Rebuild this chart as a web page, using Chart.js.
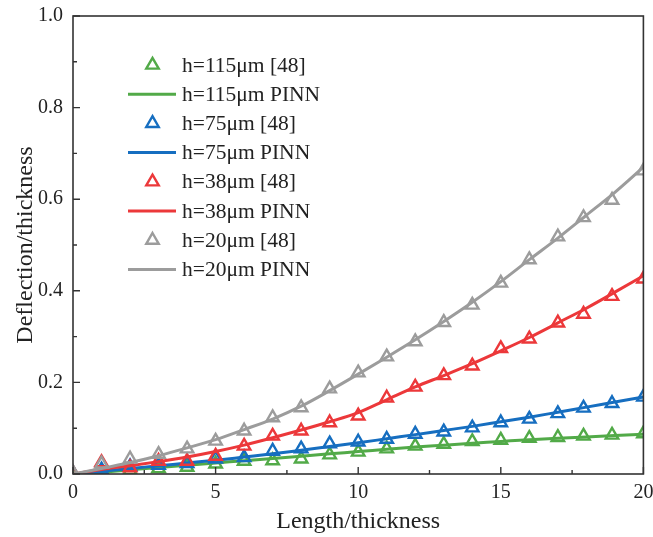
<!DOCTYPE html>
<html>
<head>
<meta charset="utf-8">
<script src="https://cdn.jsdelivr.net/npm/chart.js@4.4.1/dist/chart.umd.min.js"></script>
<style>
    html, body { margin: 0; padding: 0; background: #fff; }
    #wrap { width: 653px; height: 537px; }
</style>
</head>
<body>
<div id="wrap"><canvas id="deflectionChart" width="653" height="537"></canvas></div>
<script>
// x positions
const pinnLength = [0, 1, 2, 3, 4, 5, 6, 7, 8, 9, 10, 11, 12, 13, 14, 15, 16, 17, 18, 19, 20];
const refLength = [0, 1, 2, 3, 4, 5, 6, 7, 8, 9, 10, 11, 12, 13, 14, 15, 16, 17, 17.9, 18.9, 20];

// reference [48] markers
const h115Ref = [0.0, 0.002, 0.008, 0.012, 0.015, 0.022, 0.028, 0.029, 0.033, 0.042, 0.048, 0.055, 0.061, 0.065, 0.071, 0.074, 0.078, 0.08, 0.083, 0.085, 0.088];
const h75Ref = [0.002, 0.009, 0.016, 0.019, 0.023, 0.033, 0.036, 0.05, 0.055, 0.066, 0.07, 0.076, 0.087, 0.092, 0.101, 0.112, 0.12, 0.132, 0.144, 0.154, 0.168];
const h38Ref = [0.002, 0.025, 0.014, 0.028, 0.028, 0.039, 0.061, 0.083, 0.094, 0.112, 0.127, 0.166, 0.19, 0.215, 0.236, 0.274, 0.295, 0.33, 0.349, 0.388, 0.426];
const h20Ref = [0.003, 0.022, 0.033, 0.043, 0.055, 0.072, 0.094, 0.123, 0.145, 0.186, 0.221, 0.256, 0.289, 0.331, 0.369, 0.417, 0.468, 0.518, 0.56, 0.598, 0.662];

// PINN curves
const h115Pinn = [0, 0.004, 0.009, 0.014, 0.019, 0.024, 0.029, 0.034, 0.039, 0.044, 0.049, 0.054, 0.059, 0.063, 0.067, 0.071, 0.075, 0.078, 0.081, 0.084, 0.087];
const h75Pinn = [0, 0.006, 0.012, 0.018, 0.024, 0.03, 0.037, 0.044, 0.052, 0.06, 0.068, 0.077, 0.086, 0.095, 0.104, 0.114, 0.124, 0.135, 0.146, 0.157, 0.168];
const h38Pinn = [0, 0.01, 0.018, 0.027, 0.037, 0.049, 0.063, 0.079, 0.096, 0.114, 0.134, 0.162, 0.19, 0.215, 0.241, 0.269, 0.298, 0.33, 0.362, 0.397, 0.433];
const h20Pinn = [0, 0.012, 0.025, 0.04, 0.057, 0.075, 0.097, 0.12, 0.148, 0.182, 0.218, 0.255, 0.293, 0.333, 0.375, 0.42, 0.468, 0.515, 0.565, 0.615, 0.67];

const seriesLabels = ['h=115\u03bcm [48]', 'h=115\u03bcm PINN', 'h=75\u03bcm [48]', 'h=75\u03bcm PINN',
    'h=38\u03bcm [48]', 'h=38\u03bcm PINN', 'h=20\u03bcm [48]', 'h=20\u03bcm PINN'];

const GREEN = 'rgb(82, 170, 72)';
const BLUE = 'rgb(22, 110, 192)';
const RED = 'rgb(236, 56, 58)';
const GRAY = 'rgb(156, 156, 156)';
const INK = '#222';
const SERIF = '"Liberation Serif", "Times New Roman", serif';

function toPoints(xs, ys) {
    return xs.map((x, i) => ({ x: x, y: ys[i] }));
}

function refSet(label, ys, color, order) {
    return {
        label: label,
        data: toPoints(refLength, ys),
        showLine: false,
        pointStyle: 'triangle',
        pointRadius: 7.2,
        pointBorderWidth: 2.4,
        pointBorderColor: color,
        pointBackgroundColor: 'rgba(0,0,0,0)',
        borderColor: color,
        clip: 0,
        order: order
    };
}

function pinnSet(label, ys, color, order) {
    return {
        label: label,
        data: toPoints(pinnLength, ys),
        showLine: true,
        borderColor: color,
        borderWidth: 3,
        pointRadius: 0,
        cubicInterpolationMode: 'monotone',
        clip: 0,
        order: order
    };
}

function noEdgePadding(scale) {
    scale.paddingTop = 0;
    scale.paddingBottom = 0;
    scale.paddingLeft = 0;
    scale.paddingRight = 0;
}

// legend, frame and inward ticks
const framePlugin = {
    id: 'frame',
    afterDraw(chart) {
        const ctx = chart.ctx;
        const area = chart.chartArea;
        const xs = chart.scales.x;
        const ys = chart.scales.y;
        ctx.save();
        ctx.strokeStyle = '#333';
        ctx.lineWidth = 1.6;
        ctx.strokeRect(area.left, area.top, area.right - area.left, area.bottom - area.top);

        ctx.lineWidth = 1.4;
        ctx.beginPath();
        for (let v = 0; v <= 20; v += 2.5) {
            const px = xs.getPixelForValue(v);
            const len = (v % 5 === 0) ? 7 : 4;
            ctx.moveTo(px, area.bottom);
            ctx.lineTo(px, area.bottom - len);
        }
        for (let k = 0; k <= 10; k++) {
            const py = ys.getPixelForValue(k / 10);
            const len = (k % 2 === 0) ? 7 : 4;
            ctx.moveTo(area.left, py);
            ctx.lineTo(area.left + len, py);
        }
        ctx.stroke();

        // legend
        const rowTop = 65;
        const rowGap = 29.2;
        const symX = 152.5;
        chart.data.datasets.forEach((ds, i) => {
            const y = rowTop + i * rowGap;
            ctx.strokeStyle = ds.borderColor;
            if (ds.showLine) {
                ctx.lineWidth = 3;
                ctx.beginPath();
                ctx.moveTo(128, y);
                ctx.lineTo(176, y);
                ctx.stroke();
            } else {
                const r = 7.2;
                ctx.lineWidth = 2.4;
                ctx.beginPath();
                ctx.moveTo(symX, y - r);
                ctx.lineTo(symX + r * 0.866, y + r / 2);
                ctx.lineTo(symX - r * 0.866, y + r / 2);
                ctx.closePath();
                ctx.stroke();
            }
            ctx.fillStyle = INK;
            ctx.font = '21.5px ' + SERIF;
            ctx.textBaseline = 'middle';
            ctx.textAlign = 'left';
            ctx.fillText(ds.label, 182, y + 1);
        });
        ctx.restore();
    }
};

document.addEventListener('DOMContentLoaded', function() {
    const ctx = document.getElementById('deflectionChart').getContext('2d');
    new Chart(ctx, {
        type: 'scatter',
        data: {
            datasets: [
                refSet(seriesLabels[0], h115Ref, GREEN, 7),
                pinnSet(seriesLabels[1], h115Pinn, GREEN, 6),
                refSet(seriesLabels[2], h75Ref, BLUE, 5),
                pinnSet(seriesLabels[3], h75Pinn, BLUE, 4),
                refSet(seriesLabels[4], h38Ref, RED, 3),
                pinnSet(seriesLabels[5], h38Pinn, RED, 2),
                refSet(seriesLabels[6], h20Ref, GRAY, 1),
                pinnSet(seriesLabels[7], h20Pinn, GRAY, 0)
            ]
        },
        options: {
            responsive: false,
            animation: false,
            layout: { padding: { top: 16, right: 9, left: 0, bottom: 0 } },
            plugins: {
                legend: { display: false },
                tooltip: { enabled: false }
            },
            scales: {
                x: {
                    type: 'linear',
                    min: 0,
                    max: 20,
                    afterFit: function(scale) { scale.height = 63; noEdgePadding(scale); },
                    grid: { display: false, drawTicks: false },
                    border: { display: false },
                    ticks: {
                        stepSize: 5,
                        padding: 7,
                        color: INK,
                        font: { family: SERIF, size: 20 },
                        maxRotation: 0
                    },
                    title: {
                        display: true,
                        text: 'Length/thickness',
                        color: INK,
                        font: { family: SERIF, size: 24 },
                        padding: { top: 0, bottom: 1 }
                    }
                },
                y: {
                    type: 'linear',
                    min: 0,
                    max: 1,
                    afterFit: function(scale) { scale.width = 73; noEdgePadding(scale); },
                    grid: { display: false, drawTicks: false },
                    border: { display: false },
                    ticks: {
                        stepSize: 0.2,
                        padding: 10,
                        color: INK,
                        font: { family: SERIF, size: 20 },
                        callback: function(v) { return v.toFixed(1); }
                    },
                    title: {
                        display: true,
                        text: 'Deflection/thickness',
                        color: INK,
                        font: { family: SERIF, size: 24 },
                        padding: { top: 11, bottom: 0 }
                    }
                }
            }
        },
        plugins: [framePlugin]
    });
});
</script>
</body>
</html>
